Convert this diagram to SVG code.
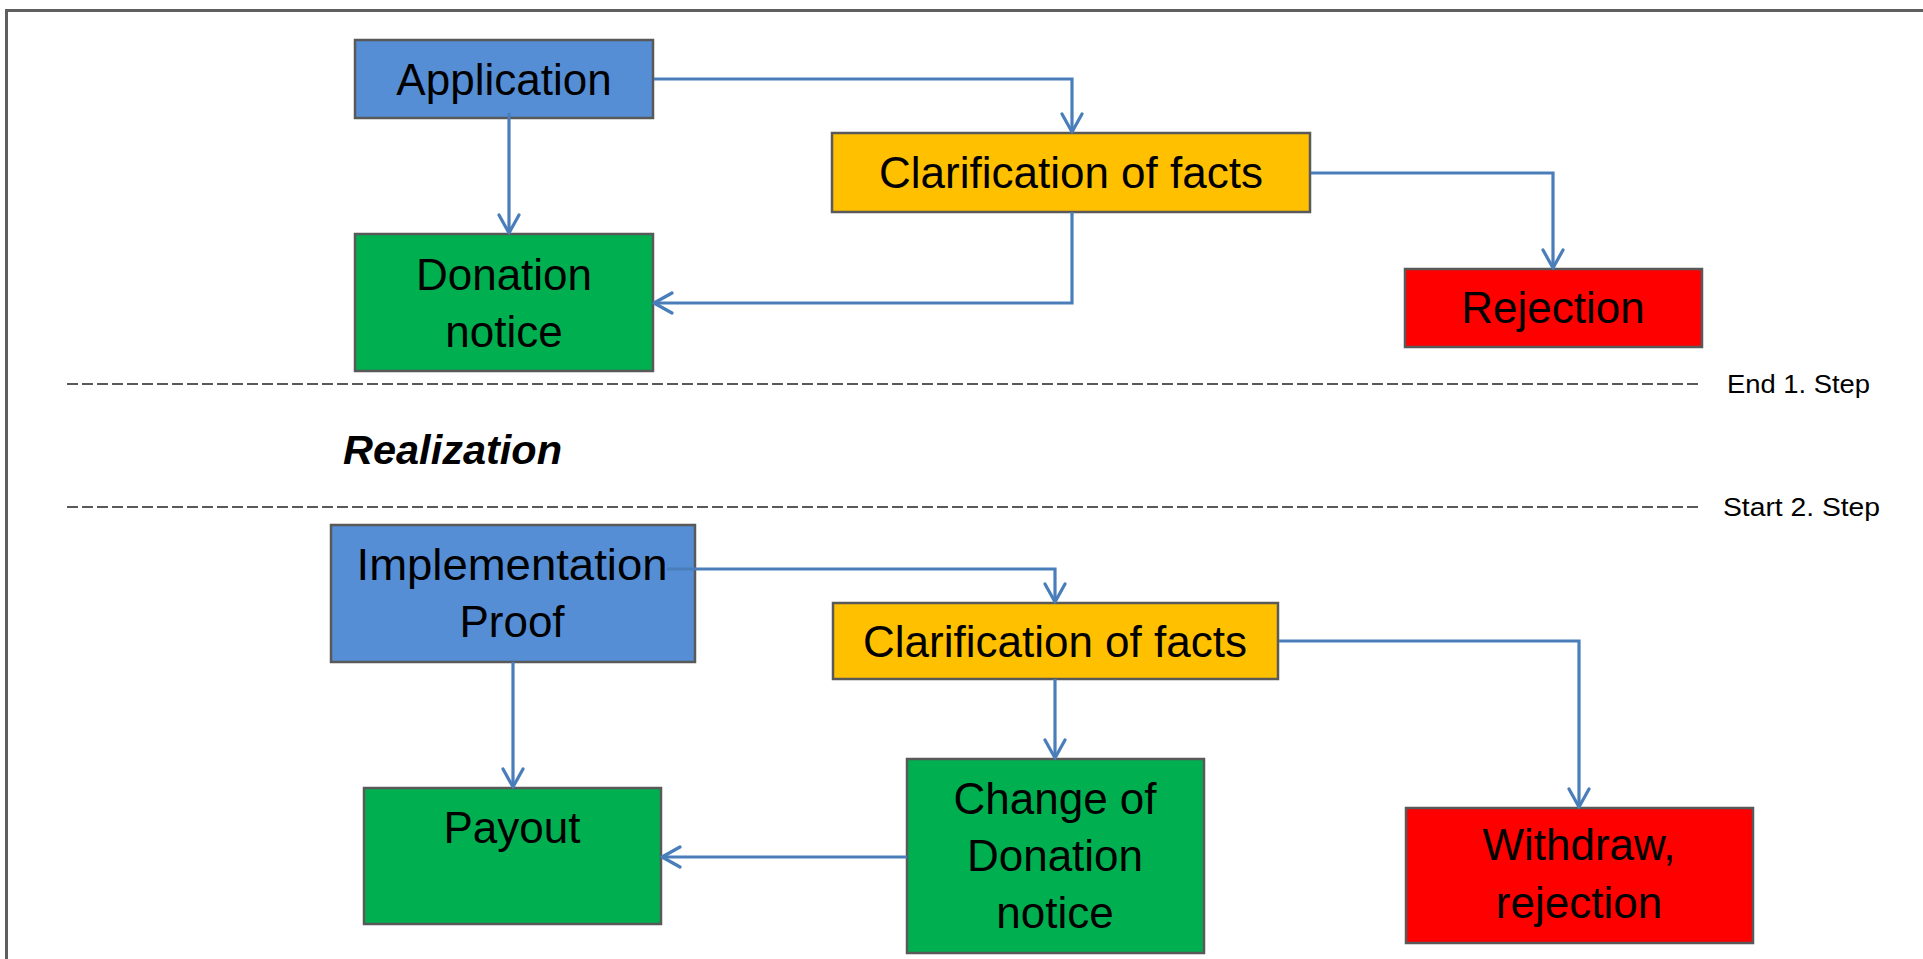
<svg xmlns="http://www.w3.org/2000/svg" width="1923" height="959" viewBox="0 0 1923 959">
<defs>
<style>
.box{stroke:#595959;stroke-width:2.5}
.blue{fill:#558ED5}
.orange{fill:#FFC000}
.green{fill:#00B050}
.red{fill:#FF0000}
.t{font-family:"Liberation Sans",Arial,sans-serif;font-size:44px;fill:#000;text-anchor:middle}
.conn{fill:none;stroke:#4A7EBB;stroke-width:3.2;marker-end:url(#arr)}
.dash{fill:none;stroke:#595959;stroke-width:1.8;stroke-dasharray:11 4}
.lbl{font-family:"Liberation Sans",Arial,sans-serif;font-size:26px;fill:#000}
</style>
<marker id="arr" viewBox="0 0 22 24" refX="20" refY="12" markerWidth="22" markerHeight="24" markerUnits="userSpaceOnUse" orient="auto">
<path d="M2,2 L20,12 L2,22" fill="none" stroke="#4A7EBB" stroke-width="3.2" stroke-linecap="round" stroke-linejoin="round"/>
</marker>
</defs>
<rect width="1923" height="959" fill="#fff"/>
<rect x="6.5" y="10.5" width="1940" height="1000" fill="none" stroke="#5f5f5f" stroke-width="3"/>

<g id="separators">
<path class="dash" d="M67,384 H1700"/>
<path class="dash" d="M67,507 H1700"/>
<text class="lbl" x="1727" y="393" textLength="143" lengthAdjust="spacingAndGlyphs">End 1. Step</text>
<text class="lbl" x="1723" y="516" textLength="157" lengthAdjust="spacingAndGlyphs">Start 2. Step</text>
<text x="343" y="464" font-family="'Liberation Sans',Arial,sans-serif" font-size="40" font-weight="bold" font-style="italic" textLength="219" lengthAdjust="spacingAndGlyphs">Realization</text>
</g>

<g id="application">
<rect class="box blue" x="355" y="40" width="298" height="78"/>
<text class="t" x="504" y="95">Application</text>
</g>
<g id="donation-notice">
<rect class="box green" x="355" y="234" width="298" height="137"/>
<text class="t" x="504" y="290">Donation</text>
<text class="t" x="504" y="347">notice</text>
</g>
<g id="clarification-1">
<rect class="box orange" x="832" y="133" width="478" height="79"/>
<text class="t" x="1071" y="188">Clarification of facts</text>
</g>
<g id="rejection">
<rect class="box red" x="1405" y="269" width="297" height="78"/>
<text class="t" x="1553" y="323">Rejection</text>
</g>
<g id="implementation-proof">
<rect class="box blue" x="331" y="525" width="364" height="137"/>
<text class="t" x="512" y="580" textLength="311" lengthAdjust="spacingAndGlyphs">Implementation</text>
<text class="t" x="512" y="637">Proof</text>
</g>
<g id="clarification-2">
<rect class="box orange" x="833" y="603" width="445" height="76"/>
<text class="t" x="1055" y="657">Clarification of facts</text>
</g>
<g id="payout">
<rect class="box green" x="364" y="788" width="297" height="136"/>
<text class="t" x="512" y="843">Payout</text>
</g>
<g id="change-of-donation-notice">
<rect class="box green" x="907" y="759" width="297" height="194"/>
<text class="t" x="1055" y="814">Change of</text>
<text class="t" x="1055" y="871">Donation</text>
<text class="t" x="1055" y="928">notice</text>
</g>
<g id="withdraw-rejection">
<rect class="box red" x="1406" y="808" width="347" height="135"/>
<text class="t" x="1579" y="860">Withdraw,</text>
<text class="t" x="1579" y="918">rejection</text>
</g>

<g id="connectors">
<path class="conn" d="M654,79 H1072 V132"/>
<path class="conn" d="M509,113 V233"/>
<path class="conn" d="M1072,212 V303 H654"/>
<path class="conn" d="M1311,173 H1553 V268"/>
<path class="conn" d="M667,569 H1055 V602"/>
<path class="conn" d="M513,662 V787"/>
<path class="conn" d="M1055,679 V758"/>
<path class="conn" d="M1279,641 H1579 V807"/>
<path class="conn" d="M907,857 H662"/>
</g>
</svg>
